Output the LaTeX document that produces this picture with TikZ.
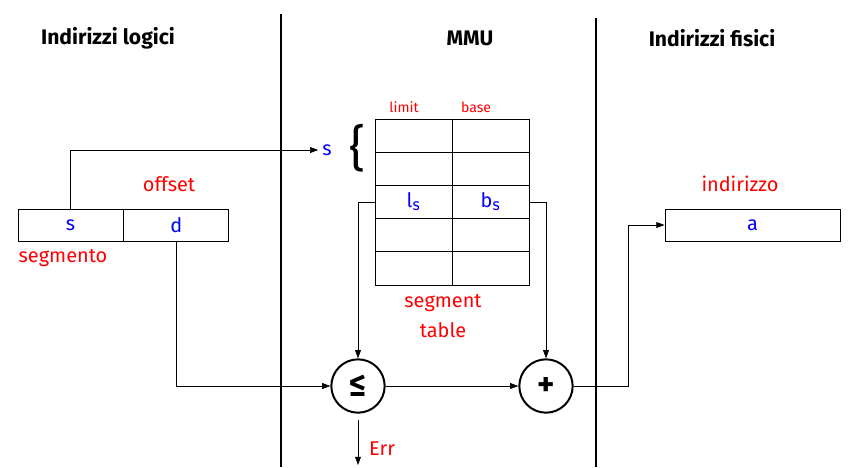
\documentclass[tikz,border=0pt]{standalone}
\usepackage{fontspec}
\setmainfont{Fira Sans}
\usetikzlibrary{arrows.meta}

\begin{document}
\begin{tikzpicture}[
  x=0.03cm, y=-0.03cm,
  every node/.style={font=\fontsize{17}{20}\selectfont},
  title/.style={font=\fontsize{18}{20}\selectfont\bfseries},
  lbl/.style={text=red},
  var/.style={text=blue},
  addrcell/.style={draw, line width=0.8pt, minimum width=3.15cm, minimum height=0.96cm, inner sep=0pt},
  tabcell/.style={draw, line width=0.8pt, minimum width=2.31cm, minimum height=0.996cm, inner sep=0pt},
  unit/.style={draw, circle, line width=1.7pt, minimum size=1.6cm, inner sep=0pt, font=\fontsize{28}{30}\selectfont\bfseries},
  arrow/.style={-{Triangle[length=7pt,width=5pt]}, line width=0.6pt}
]
\useasboundingbox (0,0) rectangle (850,467);

% three zones
\draw[line width=2.2pt] (281,14) -- (281,467);
\draw[line width=2.2pt] (596,18) -- (596,467);
\node[title] (tlog) at (108,38) {Indirizzi logici};
\node[title] (tmmu) at (470,38) {MMU};
\node[title] (tfis) at (712,38) {Indirizzi fisici};

% logical address
\node[addrcell, var] (seg) at (70.5,225) {s};
\node[addrcell, var, anchor=west] (off) at (seg.east) {d};
\node[lbl] (offlbl) at (169,184) {offset};
\node[lbl] (seglbl) at (63,258) {segmento};

% segment table
\foreach \r/\l/\b in {1//,2//,3/l$_{\textsf{s}}$/b$_{\textsf{s}}$,4//,5//}{
  \node[tabcell, var] (lim\r) at (413.5,{119+33.2*(\r-0.5)}) {\l};
  \node[tabcell, var] (bas\r) at (490.5,{119+33.2*(\r-0.5)}) {\b};
}
\node[lbl, font=\fontsize{12}{14}\selectfont] (limlbl) at (404,107) {limit};
\node[lbl, font=\fontsize{12}{14}\selectfont] (baslbl) at (476,107) {base};
\node[var] (sidx) at (327,150) {s};
\node[font=\fontsize{42}{42}\selectfont] (brace) at (357,148) {\{};
\node[lbl, align=center, font=\fontsize{17}{25}\selectfont] (tablbl) at (443,316) {segment\\table};

% comparator and adder
\node[unit] (le) at (358,386) {≤};
\node[unit] (plus) at (546,386) {+};

% physical address
\node[addrcell, var, minimum width=5.25cm] (phys) at (752.5,225) {a};
\node[lbl] (physlbl) at (740,184) {indirizzo};

% connections
\coordinate (errend) at (358,465);
\draw[arrow] (seg.north) |- (sidx.west);
\draw[arrow] (off.south) |- (le.west);
\draw[arrow] (lim3.west) -| (le.north);
\draw[arrow] (bas3.east) -| (plus.north);
\draw[arrow] (le.east) -- (plus.west);
\draw[arrow] (plus.east) -- ++(55,0) |- (phys.west);
\draw[arrow] ([yshift=-0.2cm]le.south) -- (errend);
\node[lbl] (err) at (382,449) {Err};
\end{tikzpicture}
\end{document}
